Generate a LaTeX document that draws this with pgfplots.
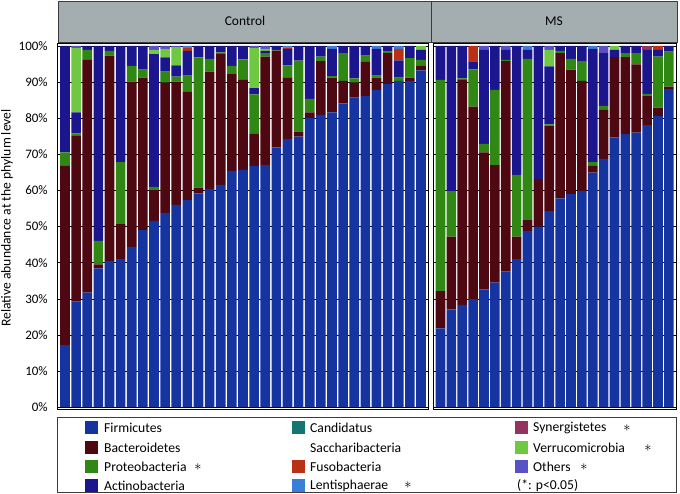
\documentclass[border=0pt]{standalone}
\usepackage{pgfplots}
\pgfplotsset{compat=1.18}
\usepackage{pgfplotstable}
\usepackage{fontspec}
\setmainfont{Carlito}

\definecolor{cF}{RGB}{22,52,160}
\definecolor{cB}{RGB}{78,8,18}
\definecolor{cP}{RGB}{48,135,20}
\definecolor{cA}{RGB}{28,22,142}
\definecolor{cC}{RGB}{20,118,112}
\definecolor{cFu}{RGB}{185,48,20}
\definecolor{cL}{RGB}{60,125,215}
\definecolor{cS}{RGB}{150,50,95}
\definecolor{cV}{RGB}{110,200,65}
\definecolor{cO}{RGB}{90,80,200}
\definecolor{hdr}{RGB}{164,174,177}
\definecolor{hdrline}{RGB}{60,60,60}

\pgfplotstableread{
x  F    B    P    A    C   Fu  L   S   V    O
1  17.2 49.6 3.7  29.5 0   0   0   0   0    0
2  29.2 46.0 0.6  5.8  0   0   0   0   17.8 0.6
3  31.7 64.6 2.6  1.1  0   0   0   0   0    0
4  38.4 1.1  6.5  54.0 0   0   0   0   0    0
5  40.5 56.8 1.3  1.4  0   0   0   0   0    0
6  41.0 9.7  17.1 32.2 0   0   0   0   0    0
7  44.4 45.7 4.4  5.5  0   0   0   0   0    0
8  49.0 42.2 2.2  6.6  0   0   0   0   0    0
9  51.6 8.5  0.9  36.7 0   0   0   0   1.2  1.1
10 53.8 36.0 3.1  3.9  0   0   0   0   2.4  0.8
11 56.0 34.1 1.4  3.1  0   0   0   0   4.9  0.5
12 57.3 30.1 4.4  6.8  0   0.8 0.6 0   0    0
13 59.2 1.6  36.0 3.2  0   0   0   0   0    0
14 60.4 32.5 3.5  3.6  0   0   0   0   0    0
15 61.5 36.3 0.4  1.8  0   0   0   0   0    0
16 65.4 26.8 2.3  5.5  0   0   0   0   0    0
17 65.7 24.9 5.7  3.7  0   0   0   0   0    0
18 66.8 9.0  10.8 1.7  0   0   0   0   11.1 0.6
19 67.0 30.0 1.0  0.6  0   0   0   0   0.6  0.8
20 71.9 26.8 0.2  1.1  0   0   0   0   0    0
21 74.2 17.1 3.3  4.6  0   0.4 0.4 0   0    0
22 74.9 1.4  19.6 4.1  0   0   0   0   0    0
23 80.0 1.6  3.7  14.7 0   0   0   0   0    0
24 80.9 14.9 1.2  3.0  0   0   0   0   0    0
25 81.6 9.6  0.4  7.6  0   0   0.8 0   0    0
26 84.1 6.2  7.7  2.0  0   0   0   0   0    0
27 85.7 4.1  1.2  9.0  0   0   0   0   0    0
28 86.1 9.6  1.6  2.7  0   0   0   0   0    0
29 87.8 3.4  0.6  7.4  0   0   0.8 0   0    0
30 89.4 8.6  0.4  1.6  0   0   0   0   0    0
31 90.3 0.0  0.9  4.8  0   3.2 0.8 0   0    0
32 90.3 0.9  5.4  3.4  0   0   0   0   0    0
33 93.2 1.4  1.5  2.8  0   0   0   0   1.1  0
}\ctrl

\pgfplotstableread{
x  F    B    P    A    C   Fu  L   S   V    O
1  21.8 10.3 58.5 9.4  0   0   0   0   0    0
2  27.1 20.1 12.6 40.2 0   0   0   0   0    0
3  28.3 62.3 0.4  9.0  0   0   0   0   0    0
4  29.9 53.3 10.3 2.2  0   4.3 0   0   0    0
5  32.6 37.9 2.4  26.0 0   0   0   0   0    1.1
6  34.5 32.5 20.8 12.2 0   0   0   0   0    0
7  37.5 58.3 0.3  2.8  0   0   0   0   0    1.1
8  41.0 6.2  17.1 35.7 0   0   0   0   0    0
9  48.8 3.0  44.6 2.5  0   0   1.1 0   0    0
10 50.0 13.2 0.0  36.8 0   0   0   0   0    0
11 54.3 23.6 0.4  16.0 0   0   0   0   4.6  1.1
12 57.8 40.2 0.6  1.4  0   0   0   0   0    0
13 59.0 34.4 3.0  3.6  0   0   0   0   0    0
14 59.9 30.4 5.5  4.2  0   0   0   0   0    0
15 64.9 2.0  0.9  31.4 0   0   0.8 0   0    0
16 68.7 13.6 1.1  14.8 0   0   0   0   0    1.8
17 74.7 22.2 0.0  2.0  0   0   0   0   1.1  0
18 75.6 21.3 1.1  2.0  0   0   0   0   0    0
19 76.0 18.9 3.1  2.0  0   0   0   0   0    0
20 78.1 8.0  0.6  12.2 0   0   0   1.1 0    0
21 80.6 2.3  14.1 1.9  0   1.1 0   0   0    0
22 88.0 0.7  9.7  1.6  0   0   0   0   0    0
}\ms

\pgfplotsset{
  panel/.style={
    ybar stacked, scale only axis, height=366bp,
    anchor=south west,
    ymin=-0.5, ymax=100.8,
    ytick={0,10,...,100},
    ymajorgrids, grid style={black, line width=0.5pt},
    major tick length=0pt,
    xtick=\empty,
    axis line style={black, line width=0.8pt},
    bar width=9.6bp,
    /pgf/number format/assume math mode=true,
    tick label style={font=\fontsize{13}{15}\selectfont},
  },
}
\newcommand{\stackall}[1]{%
  \addplot[fill=cF, draw=none] table[x=x,y=F]{#1};
  \addplot[fill=cB, draw=none] table[x=x,y=B]{#1};
  \addplot[fill=cP, draw=none] table[x=x,y=P]{#1};
  \addplot[fill=cA, draw=none] table[x=x,y=A]{#1};
  \addplot[fill=cC, draw=none] table[x=x,y=C]{#1};
  \addplot[fill=cFu, draw=none] table[x=x,y=Fu]{#1};
  \addplot[fill=cL, draw=none] table[x=x,y=L]{#1};
  \addplot[fill=cS, draw=none] table[x=x,y=S]{#1};
  \addplot[fill=cV, draw=none] table[x=x,y=V]{#1};
  \addplot[fill=cO, draw=none] table[x=x,y=O]{#1};
}

\begin{document}
\begin{tikzpicture}
\useasboundingbox (0bp,0bp) rectangle (680bp,494bp);
% header strip
\draw[fill=hdr, draw=hdrline, line width=0.8pt] (58bp,452bp) rectangle (677bp,493bp);
\draw[hdrline, line width=0.8pt] (431bp,452bp) -- (431bp,493bp);
\node[font=\fontsize{13.5}{15}\selectfont] at (245bp,473bp) {Control};
\node[font=\fontsize{13.5}{15}\selectfont] at (554bp,473bp) {MS};

\begin{axis}[panel, at={(57.7bp,85bp)}, width=370.6bp,
  xmin=0.344, xmax=33.656,
  yticklabel={\pgfmathprintnumber{\tick}\%},
  yticklabel style={xshift=-6.5bp},
]
\stackall{\ctrl}
\end{axis}

\begin{axis}[panel, at={(433bp,85bp)}, width=243bp,
  xmin=0.31, xmax=22.66,
  yticklabels={},
]
\stackall{\ms}
\end{axis}

% y label
\node[rotate=90, font=\fontsize{13.7}{16}\selectfont] at (7bp,276bp) {Relative abundance at the phylum level};

% legend
\draw[hdrline, line width=0.8pt] (57bp,2bp) rectangle (676bp,77bp);
\begin{scope}[font=\fontsize{13.7}{15}\selectfont]
\def\sq#1#2#3{\fill[#3] ({#1bp-6.5bp},{#2bp-6.5bp}) rectangle ({#1bp+6.5bp},{#2bp+6.5bp});}
\sq{91}{66}{cF}  \node[anchor=west, inner sep=0pt] at (104bp,66bp) {Firmicutes};
\sq{91}{46}{cB}  \node[anchor=west, inner sep=0pt] at (104bp,46bp) {Bacteroidetes};
\sq{91}{27}{cP}  \node[anchor=west, inner sep=0pt] at (104bp,27bp) {Proteobacteria};
\sq{91}{8.5}{cA} \node[anchor=west, inner sep=0pt] at (104bp,8.5bp) {Actinobacteria};
\node at (198bp,27bp) {$\ast$};
\sq{298.3}{66}{cC}  \node[anchor=west, inner sep=0pt] at (310bp,66bp) {Candidatus};
\node[anchor=west, inner sep=0pt] at (310bp,46bp) {Saccharibacteria};
\sq{298.3}{27}{cFu} \node[anchor=west, inner sep=0pt] at (310bp,27bp) {Fusobacteria};
\sq{298.3}{8.5}{cL} \node[anchor=west, inner sep=0pt] at (310bp,8.5bp) {Lentisphaerae};
\node at (408bp,8.5bp) {$\ast$};
\sq{521.5}{66}{cS}  \node[anchor=west, inner sep=0pt] at (533bp,66bp) {Synergistetes};
\sq{521.5}{46}{cV}  \node[anchor=west, inner sep=0pt] at (533bp,46bp) {Verrucomicrobia};
\sq{521.5}{27}{cO}  \node[anchor=west, inner sep=0pt] at (533bp,27bp) {Others};
\node[anchor=west, inner sep=0pt] at (517bp,8.5bp) {(*: p<0.05)};
\node at (627bp,66bp) {$\ast$};
\node at (648bp,46bp) {$\ast$};
\node at (584bp,27bp) {$\ast$};
\end{scope}
\end{tikzpicture}
\end{document}
